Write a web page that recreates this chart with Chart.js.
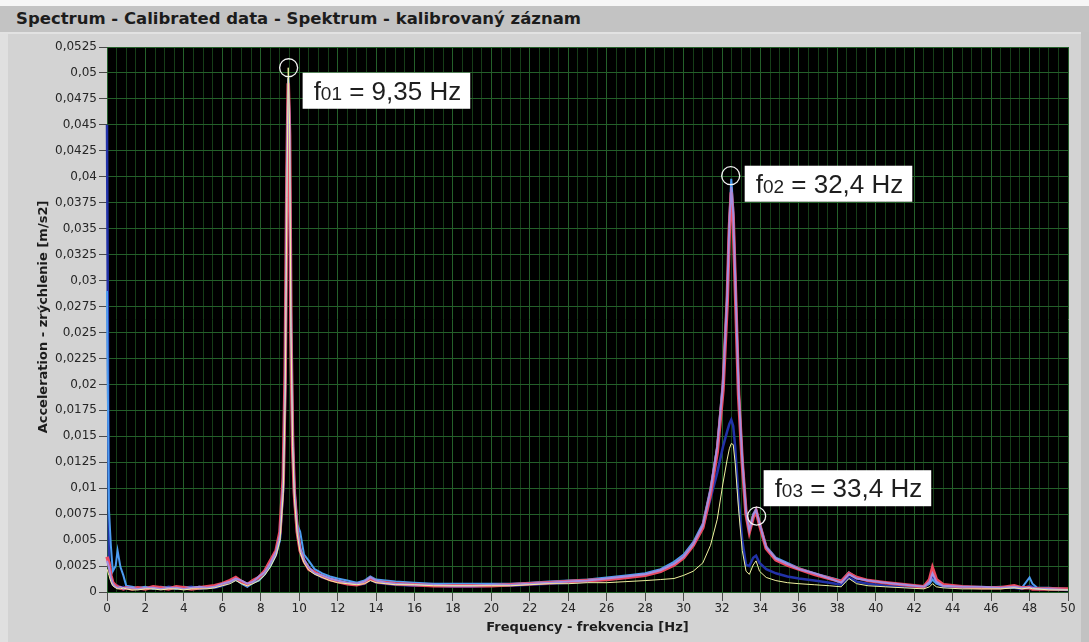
<!DOCTYPE html>
<html>
<head>
<meta charset="utf-8">
<script src="https://cdn.jsdelivr.net/npm/chart.js@4.4.1/dist/chart.umd.min.js"></script>
<style>
  body { margin: 0; background: #c2c2c2; width: 1089px; height: 642px; overflow: hidden; position: relative; }
  #strip { position: absolute; left: 0; top: 0; width: 1089px; height: 6px; background: #f6f6f6; }
  #band { position: absolute; left: 0; top: 6px; width: 1089px; height: 26px; background: #c3c3c3; }
  #band span { position: absolute; left: 16px; top: 3px; font: bold 16.5px "DejaVu Sans", sans-serif; color: #1c1c1c; }
  #panel { position: absolute; left: 0; top: 32px; width: 1081px; height: 610px; background: #d3d3d3; border-top: 2px solid #e2e2e2; box-sizing: border-box; }
  #panel:before { content: ""; position: absolute; left: 0; top: 0; width: 8px; height: 100%; background: #e0e0e0; }
  canvas { position: absolute; left: 0; top: 0; }
</style>
</head>
<body>
<div id="strip"></div>
<div id="band"><span>Spectrum - Calibrated data - Spektrum - kalibrovaný záznam</span></div>
<div id="panel"></div>
<canvas id="spectrum" width="1089" height="642"></canvas>
<script>
// spectrum data, frequency in Hz, acceleration in m/s2

const freq = [
  0, 0.1, 0.2, 0.3, 0.45, 0.55, 0.7, 0.85, 1.0, 1.3,
  1.6, 2.0, 2.4, 2.8, 3.2, 3.6, 4.0, 4.4, 4.8, 5.2,
  5.6, 6.0, 6.4, 6.7, 7.0, 7.3, 7.6, 7.9, 8.2, 8.5,
  8.8, 9.0, 9.17, 9.27, 9.36, 9.43, 9.5, 9.57, 9.66, 9.75,
  9.9, 10.05, 10.25, 10.5, 10.8, 11.2, 11.6, 12.0, 12.5, 13.0,
  13.4, 13.7, 14.0, 14.5, 15.0, 16.0, 17.0, 18.0, 19.0, 20.0,
  21.0, 22.0, 23.0, 24.0, 25.0, 26.0, 27.0, 28.0, 28.8, 29.5,
  30.0, 30.5, 31.0, 31.4, 31.75, 32.05, 32.27, 32.38, 32.48, 32.58,
  32.68, 32.86, 33.05, 33.25, 33.42, 33.62, 33.77, 33.95, 34.3, 34.8,
  35.4, 36.0, 36.8, 37.6, 38.2, 38.6, 39.0, 39.6, 40.5, 41.5,
  42.5, 42.8, 42.95, 43.15, 43.5, 44.5, 45.5, 46.5, 47.2, 47.6,
  48.0, 48.15, 48.4, 49.0, 50.0
];

const accRed = [
  0.0034, 0.0028, 0.0016, 0.0009, 0.0006, 0.0005, 0.0004, 0.0003, 0.0004, 0.0003,
  0.0004, 0.0003, 0.0005, 0.0004, 0.0003, 0.0005, 0.0004, 0.0003, 0.0004, 0.0005,
  0.0006, 0.0008, 0.0011, 0.0014, 0.0010, 0.0007, 0.0011, 0.0014, 0.0020, 0.0030,
  0.0040, 0.0058, 0.0110, 0.0210, 0.0400, 0.0490, 0.0440, 0.0250, 0.0140, 0.0095,
  0.0058, 0.0040, 0.0030, 0.0022, 0.0019, 0.0015, 0.0012, 0.0010, 0.0008, 0.0007,
  0.0009, 0.0013, 0.0010, 0.0009, 0.0008, 0.0007, 0.0006, 0.0006, 0.0006, 0.0006,
  0.0007, 0.0008, 0.0009, 0.0010, 0.0011, 0.0012, 0.0014, 0.0016, 0.0020, 0.0026,
  0.0033, 0.0045, 0.0062, 0.0095, 0.0135, 0.0195, 0.0280, 0.0350, 0.0385, 0.0360,
  0.0300, 0.0190, 0.0125, 0.0075, 0.0058, 0.0072, 0.0078, 0.0065, 0.0042, 0.0031,
  0.0026, 0.0022, 0.0017, 0.0013, 0.0010, 0.0018, 0.0014, 0.0011, 0.0009, 0.0007,
  0.0005, 0.0012, 0.0023, 0.0012, 0.0007, 0.0005, 0.0004, 0.0004, 0.0006, 0.0004,
  0.0004, 0.0003, 0.0003, 0.0003, 0.0003
];

const accViolet = [
  0.0030, 0.0024, 0.0014, 0.0008, 0.0005, 0.0004, 0.0005, 0.0003, 0.0004, 0.0004,
  0.0003, 0.0004, 0.0004, 0.0003, 0.0004, 0.0004, 0.0003, 0.0004, 0.0005, 0.0004,
  0.0005, 0.0008, 0.0010, 0.0013, 0.0011, 0.0008, 0.0010, 0.0015, 0.0019, 0.0028,
  0.0039, 0.0055, 0.0105, 0.0200, 0.0410, 0.0495, 0.0450, 0.0260, 0.0145, 0.0098,
  0.0060, 0.0042, 0.0031, 0.0024, 0.0018, 0.0016, 0.0013, 0.0011, 0.0009, 0.0008,
  0.0010, 0.0014, 0.0011, 0.0009, 0.0008, 0.0007, 0.0007, 0.0006, 0.0006, 0.0007,
  0.0007, 0.0008, 0.0009, 0.0010, 0.0011, 0.0013, 0.0015, 0.0017, 0.0021, 0.0027,
  0.0034, 0.0046, 0.0064, 0.0098, 0.0140, 0.0200, 0.0285, 0.0355, 0.0390, 0.0365,
  0.0305, 0.0195, 0.0128, 0.0077, 0.0059, 0.0074, 0.0079, 0.0066, 0.0043, 0.0032,
  0.0027, 0.0022, 0.0018, 0.0013, 0.0009, 0.0017, 0.0013, 0.0011, 0.0009, 0.0007,
  0.0005, 0.0010, 0.0018, 0.0010, 0.0006, 0.0005, 0.0005, 0.0004, 0.0005, 0.0004,
  0.0004, 0.0004, 0.0003, 0.0003, 0.0002
];

const accBlue = [
  0.0290, 0.0080, 0.0045, 0.0020, 0.0025, 0.0040, 0.0024, 0.0016, 0.0006, 0.0005,
  0.0004, 0.0005, 0.0003, 0.0005, 0.0004, 0.0003, 0.0005, 0.0004, 0.0005, 0.0004,
  0.0005, 0.0007, 0.0010, 0.0012, 0.0008, 0.0005, 0.0009, 0.0011, 0.0017, 0.0025,
  0.0036, 0.0050, 0.0100, 0.0195, 0.0380, 0.0495, 0.0460, 0.0280, 0.0160, 0.0100,
  0.0065, 0.0058, 0.0036, 0.0030, 0.0022, 0.0018, 0.0015, 0.0013, 0.0011, 0.0009,
  0.0011, 0.0015, 0.0012, 0.0011, 0.0010, 0.0009, 0.0008, 0.0008, 0.0008, 0.0008,
  0.0008, 0.0009, 0.0010, 0.0011, 0.0012, 0.0014, 0.0016, 0.0018, 0.0022, 0.0029,
  0.0036, 0.0048, 0.0066, 0.0100, 0.0140, 0.0205, 0.0290, 0.0360, 0.0398, 0.0370,
  0.0310, 0.0198, 0.0130, 0.0078, 0.0060, 0.0075, 0.0080, 0.0067, 0.0044, 0.0033,
  0.0028, 0.0023, 0.0018, 0.0014, 0.0011, 0.0019, 0.0014, 0.0011, 0.0009, 0.0007,
  0.0005, 0.0008, 0.0012, 0.0008, 0.0006, 0.0005, 0.0004, 0.0005, 0.0004, 0.0004,
  0.0014, 0.0008, 0.0004, 0.0004, 0.0003
];

const accNavy = [
  0.0450, 0.0030, 0.0012, 0.0007, 0.0005, 0.0006, 0.0004, 0.0005, 0.0003, 0.0004,
  0.0003, 0.0004, 0.0004, 0.0003, 0.0005, 0.0004, 0.0004, 0.0005, 0.0003, 0.0004,
  0.0004, 0.0006, 0.0009, 0.0012, 0.0009, 0.0006, 0.0009, 0.0012, 0.0018, 0.0026,
  0.0037, 0.0052, 0.0100, 0.0190, 0.0370, 0.0470, 0.0430, 0.0250, 0.0140, 0.0090,
  0.0056, 0.0040, 0.0029, 0.0023, 0.0018, 0.0014, 0.0012, 0.0010, 0.0008, 0.0007,
  0.0008, 0.0012, 0.0009, 0.0008, 0.0007, 0.0006, 0.0006, 0.0005, 0.0005, 0.0006,
  0.0006, 0.0007, 0.0008, 0.0009, 0.0010, 0.0012, 0.0014, 0.0016, 0.0020, 0.0027,
  0.0034, 0.0046, 0.0062, 0.0090, 0.0115, 0.0140, 0.0155, 0.0162, 0.0166, 0.0160,
  0.0140, 0.0090, 0.0050, 0.0026, 0.0025, 0.0033, 0.0035, 0.0028, 0.0022, 0.0018,
  0.0015, 0.0013, 0.0011, 0.0009, 0.0007, 0.0014, 0.0010, 0.0008, 0.0006, 0.0005,
  0.0004, 0.0009, 0.0016, 0.0009, 0.0005, 0.0004, 0.0004, 0.0004, 0.0004, 0.0003,
  0.0006, 0.0005, 0.0003, 0.0003, 0.0002
];

const accYellow = [
  0.0022, 0.0016, 0.0010, 0.0006, 0.0004, 0.0003, 0.0003, 0.0004, 0.0003, 0.0002,
  0.0002, 0.0003, 0.0003, 0.0002, 0.0003, 0.0003, 0.0002, 0.0003, 0.0003, 0.0003,
  0.0004, 0.0006, 0.0008, 0.0011, 0.0008, 0.0006, 0.0008, 0.0011, 0.0016, 0.0024,
  0.0035, 0.0050, 0.0095, 0.0185, 0.0380, 0.0505, 0.0450, 0.0255, 0.0140, 0.0090,
  0.0055, 0.0038, 0.0028, 0.0021, 0.0017, 0.0014, 0.0011, 0.0009, 0.0008, 0.0007,
  0.0008, 0.0011, 0.0009, 0.0008, 0.0007, 0.0007, 0.0006, 0.0006, 0.0006, 0.0006,
  0.0006, 0.0007, 0.0008, 0.0008, 0.0009, 0.0009, 0.0010, 0.0011, 0.0012, 0.0013,
  0.0016, 0.0020, 0.0028, 0.0045, 0.0070, 0.0105, 0.0128, 0.0138, 0.0143, 0.0142,
  0.0125, 0.0080, 0.0040, 0.0020, 0.0017, 0.0026, 0.0030, 0.0020, 0.0014, 0.0011,
  0.0009, 0.0008, 0.0007, 0.0006, 0.0005, 0.0013, 0.0008, 0.0006, 0.0005, 0.0004,
  0.0003, 0.0005, 0.0008, 0.0005, 0.0004, 0.0003, 0.0003, 0.0003, 0.0004, 0.0003,
  0.0004, 0.0003, 0.0003, 0.0002, 0.0002
];

// marked resonance peaks
const peakNames = ["01", "02", "03"];
const peakTexts = [" = 9,35 Hz", " = 32,4 Hz", " = 33,4 Hz"];
const peakFreq = [9.45, 32.45, 33.8];
const peakAcc = [0.0505, 0.0401, 0.0073];

// where the label boxes sit relative to each circle (px)
const boxShift = [[14, 5], [14, -10], [7, -46]];

const majorGrid = "#24602a";
const minorGrid = "#163d18";

const isMajor = v => Math.abs(v / 2 - Math.round(v / 2)) < 1e-6;
const toPoints = arr => freq.map((f, i) => ({ x: f, y: arr[i] }));

const blackArea = {
    id: "blackArea",
    beforeDraw(chart) {
        const { ctx, chartArea: a } = chart;
        ctx.save();
        ctx.fillStyle = "#000";
        ctx.fillRect(a.left, a.top, a.right - a.left, a.bottom - a.top);
        ctx.restore();
    }
};

const peakNotes = {
    id: "peakNotes",
    afterDatasetsDraw(chart) {
        const { ctx, scales: { x, y } } = chart;
        ctx.save();
        peakFreq.forEach((f, i) => {
            const cx = x.getPixelForValue(f);
            const cy = y.getPixelForValue(peakAcc[i]);
            ctx.strokeStyle = "#f4f4f4";
            ctx.lineWidth = 1.3;
            ctx.beginPath();
            ctx.arc(cx, cy, 9, 0, Math.PI * 2);
            ctx.stroke();

            const bx = cx + boxShift[i][0];
            const by = cy + boxShift[i][1];
            const big = '26px "Liberation Sans", Arial, sans-serif';
            const small = '19px "Liberation Sans", Arial, sans-serif';
            ctx.font = big;
            const wf = ctx.measureText("f").width;
            const wt = ctx.measureText(peakTexts[i]).width;
            ctx.font = small;
            const ws = ctx.measureText(peakNames[i]).width;
            const w = 11 + wf + ws + wt + 9;

            ctx.fillStyle = "#fff";
            ctx.fillRect(bx, by, w, 36);

            ctx.fillStyle = "#1e1e1e";
            ctx.textBaseline = "alphabetic";
            ctx.font = big;
            ctx.fillText("f", bx + 11, by + 27);
            ctx.font = small;
            ctx.fillText(peakNames[i], bx + 11 + wf, by + 27);
            ctx.font = big;
            ctx.fillText(peakTexts[i], bx + 11 + wf + ws, by + 27);
        });
        ctx.restore();
    }
};

const axisTitles = {
    id: "axisTitles",
    afterDraw(chart) {
        const { ctx, chartArea: a } = chart;
        ctx.save();
        ctx.fillStyle = "#1c1c1c";
        ctx.font = 'bold 13px "DejaVu Sans", sans-serif';
        ctx.textAlign = "center";
        ctx.textBaseline = "middle";
        ctx.fillText("Frequency - frekvencia [Hz]", (a.left + a.right) / 2, 628);
        ctx.translate(44, 317);
        ctx.rotate(-Math.PI / 2);
        ctx.fillText("Acceleration - zrýchlenie [m/s2]", 0, 0);
        ctx.restore();
    }
};

const tickFont = { family: '"DejaVu Sans", sans-serif', size: 12 };

new Chart(document.getElementById("spectrum"), {
    type: "line",
    data: {
        datasets: [
            { data: toPoints(accYellow), borderColor: "#f2f2a0", borderWidth: 1 },
            { data: toPoints(accViolet), borderColor: "#a58de0", borderWidth: 2 },
            { data: toPoints(accRed), borderColor: "#ec4a60", borderWidth: 3.5 },
            { data: toPoints(accBlue), borderColor: "#4d9cf0", borderWidth: 2 },
            { data: toPoints(accNavy), borderColor: "#2232a8", borderWidth: 2.5 },
        ],
    },
    options: {
        responsive: false,
        animation: false,
        layout: { padding: { top: 47, right: 21, left: 0, bottom: 0 } },
        elements: {
            point: { radius: 0 },
            line: { tension: 0 },
        },
        datasets: {
            line: { clip: { left: 3, top: 0, right: 0, bottom: 2 } },
        },
        plugins: {
            legend: { display: false },
            tooltip: { enabled: false },
        },
        scales: {
            x: {
                type: "linear",
                min: 0,
                max: 50,
                afterFit: s => { s.height = 50; },
                border: { display: false },
                grid: {
                    color: c => isMajor(c.tick.value) ? majorGrid : minorGrid,
                    tickColor: c => isMajor(c.tick.value) ? "#4a4a4a" : "rgba(0,0,0,0)",
                    tickLength: 9,
                },
                ticks: {
                    stepSize: 0.5,
                    autoSkip: false,
                    maxRotation: 0,
                    padding: 1,
                    color: "#262626",
                    font: tickFont,
                    callback: v => isMajor(v) ? String(Math.round(v)) : "",
                },
            },
            y: {
                min: 0,
                max: 0.0525,
                afterFit: s => { s.width = 107; },
                border: { display: false },
                grid: {
                    color: majorGrid,
                    tickColor: "#4a4a4a",
                    tickLength: 8,
                },
                ticks: {
                    stepSize: 0.0025,
                    autoSkip: false,
                    padding: 2,
                    color: "#262626",
                    font: tickFont,
                    callback: v => String(+v.toFixed(4)).replace(".", ","),
                },
            },
        },
    },
    plugins: [blackArea, peakNotes, axisTitles],
});
</script>
</body>
</html>
